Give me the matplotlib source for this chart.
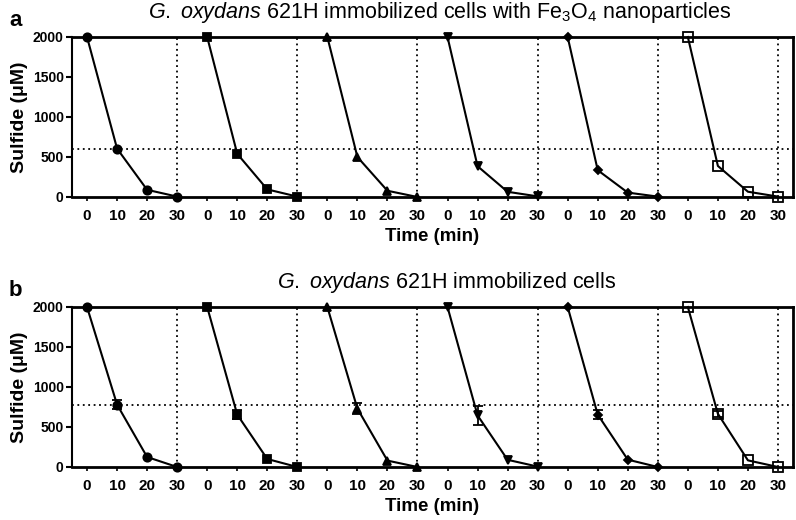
import matplotlib.pyplot as plt
import numpy as np

plt.rcParams['font.family'] = ['Liberation Sans', 'DejaVu Sans']
plt.rcParams['mathtext.fontset'] = 'custom'
plt.rcParams['mathtext.rm'] = 'Liberation Sans'
plt.rcParams['mathtext.it'] = 'Liberation Sans:italic'

# time points in each run (min)
times = [0, 10, 20, 30]
tick_labels = ['0', '10', '20', '30']

# panel a: immobilized cells with Fe3O4 nanoparticles, 6 successive runs
a_run1 = [2000, 605, 90, 5]
a_run2 = [2000, 540, 95, 5]
a_run3 = [2000, 500, 78, 0]
a_run4 = [2000, 385, 65, 8]
a_run5 = [2000, 335, 55, 5]
a_run6 = [2000, 388, 66, 5]

# panel b: immobilized cells only
b_run1 = [2000, 780, 125, 0]
b_run2 = [2000, 655, 100, 0]
b_run3 = [2000, 730, 80, 0]
b_run4 = [2000, 645, 90, 5]
b_run5 = [2000, 655, 92, 0]
b_run6 = [2000, 665, 83, 0]
b_err10 = [60, 55, 65, 115, 60, 40]  # error at 10 min

a_ref = 600
b_ref = 770

run_markers = [('o', 'k', 6), ('s', 'k', 6), ('^', 'k', 6),
               ('v', 'k', 6), ('D', 'k', 4), ('s', 'none', 7.5)]

fig = plt.figure(figsize=(7.96, 5.2), dpi=100)


def draw_panel(ax, runs, ref, errs=None):
    xs_all = []
    for i, run in enumerate(runs):
        xs = [t + 40 * i for t in times]
        xs_all += xs
        m, fc, ms = run_markers[i]
        ax.plot(xs, run, color='k', lw=1.5, marker=m, markerfacecolor=fc,
                markeredgecolor='k', markersize=ms, markeredgewidth=1.3,
                clip_on=False, zorder=3)
        if errs is not None:
            ax.errorbar(xs[1], run[1], yerr=errs[i], color='k', lw=1.3,
                        capsize=3.5, capthick=1.3, fmt='none', zorder=3)
        ax.axvline(30 + 40 * i, color='k', ls=(0, (1, 2)), lw=1.3, zorder=1)
    ax.axhline(ref, color='k', ls=(0, (1, 2)), lw=1.3, zorder=1)
    ax.set_xlim(-5, 235)
    ax.set_ylim(0, 2000)
    ax.set_xticks(xs_all)
    ax.set_xticklabels(tick_labels * len(runs))
    ax.set_yticks([0, 500, 1000, 1500, 2000])
    for lbl in ax.get_xticklabels() + ax.get_yticklabels():
        lbl.set_fontweight('bold')
    ax.tick_params(axis='x', labelsize=11, length=3, width=1.2, pad=6)
    ax.tick_params(axis='y', labelsize=10, length=4, width=1.5, pad=2)
    for side in ['top', 'bottom']:
        ax.spines[side].set_linewidth(2)
    ax.spines['left'].set_linewidth(1.5)
    ax.spines['right'].set_linewidth(2)
    ax.set_xlabel('Time (min)', fontsize=13.5, fontweight='bold', labelpad=3)
    ax.set_ylabel('Sulfide (μM)', fontsize=14, fontweight='bold', labelpad=3)


ax_a = fig.add_axes([72 / 796, 1 - 197 / 520, 721 / 796, 160 / 520])
draw_panel(ax_a, [a_run1, a_run2, a_run3, a_run4, a_run5, a_run6], a_ref)
ax_a.set_title(r'$\it{G.\ oxydans}$ 621H immobilized cells with Fe$_3$O$_4$ nanoparticles',
               fontsize=15.5, pad=14, x=0.51)

ax_b = fig.add_axes([72 / 796, 1 - 467 / 520, 721 / 796, 160 / 520])
draw_panel(ax_b, [b_run1, b_run2, b_run3, b_run4, b_run5, b_run6], b_ref, b_err10)
ax_b.set_title(r'$\it{G.\ oxydans}$ 621H immobilized cells', fontsize=15.5, pad=14,
               x=0.52)

fig.text(9 / 796, 1 - 20 / 520, 'a', fontsize=16, fontweight='bold', va='center')
fig.text(9 / 796, 1 - 290 / 520, 'b', fontsize=16, fontweight='bold', va='center')

fig.savefig('out.png', dpi=100)
